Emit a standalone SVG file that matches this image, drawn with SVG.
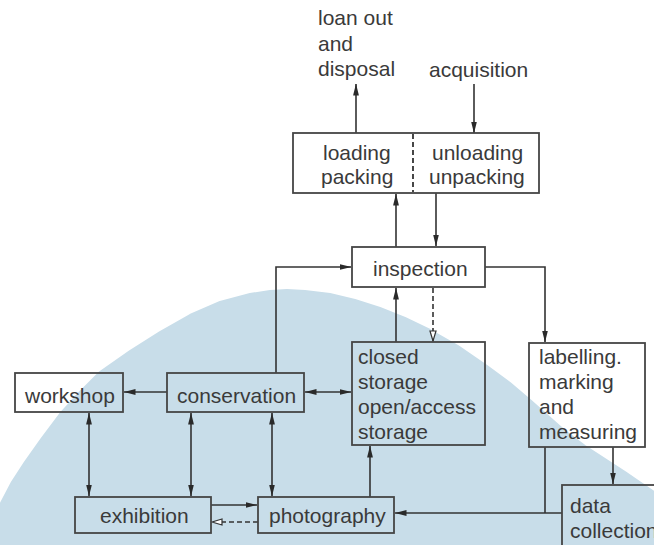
<svg xmlns="http://www.w3.org/2000/svg" width="654" height="545" viewBox="0 0 654 545">
<style>
.box{fill:none;stroke:#454545;stroke-width:1.8}
.t{font-family:"Liberation Sans",Arial,sans-serif;font-size:21px;fill:#3a3a3a}
.c{fill:none;stroke:#333;stroke-width:1.6}
.d{stroke-dasharray:5,3}
.a{marker-end:url(#arr)}
.b{marker-start:url(#arr);marker-end:url(#arr)}
.o{marker-end:url(#open)}
</style>
<defs>
<marker id="arr" markerUnits="userSpaceOnUse" markerWidth="12" markerHeight="7" viewBox="0 0 12 7" refX="11.5" refY="3.5" orient="auto-start-reverse">
<path d="M0,0.6 L12,3.5 L0,6.4 Z" fill="#2a2a2a"/>
</marker>
<marker id="open" markerUnits="userSpaceOnUse" markerWidth="12" markerHeight="9" viewBox="0 0 12 9" refX="11" refY="4.5" orient="auto">
<path d="M1,1.5 L11,4.5 L1,7.5 Z" fill="#fff" stroke="#333" stroke-width="1.2"/>
</marker>
</defs>
<rect width="654" height="545" fill="#fff"/>
<path id="bg" d="M0,505 L12,482 L25,462 L42,438 L60,414 L80,392 L100,372 L130,351 L160,332 L190,315 L220,302 L250,294 L270,291 L287,290 L305,291 L330,294 L355,300 L380,308 L405,318 L430,330 L458,346 L487,366 L510,383 L530,400 L548,416 L565,431 L585,446 L605,459 L625,472 L654,492 L654,545 L0,545 Z" fill="#c8dde9" stroke="#c8dde9" stroke-linejoin="round" stroke-width="2"/>
<g id="connectors">
<line class="c a" x1="356" y1="133" x2="356" y2="84"/>
<line class="c a" x1="474" y1="84" x2="474" y2="133"/>
<line class="c a" x1="396" y1="247" x2="396" y2="194"/>
<line class="c a" x1="436" y1="193" x2="436" y2="246"/>
<path class="c a" d="M276,373 V267 H351"/>
<path class="c a" d="M485,267 H545 V342"/>
<line class="c a" x1="396" y1="342" x2="396" y2="288"/>
<line class="c d o" x1="433" y1="288" x2="433" y2="341"/>
<line class="c b" x1="305" y1="392" x2="351" y2="392"/>
<line class="c a" x1="167" y1="392" x2="124" y2="392"/>
<line class="c b" x1="89" y1="413" x2="89" y2="496"/>
<line class="c b" x1="191" y1="413" x2="191" y2="496"/>
<line class="c b" x1="272" y1="413" x2="272" y2="496"/>
<line class="c a" x1="211" y1="505" x2="257" y2="505"/>
<line class="c d o" x1="258" y1="522" x2="212" y2="522"/>
<line class="c a" x1="370" y1="497" x2="370" y2="446"/>
<line class="c a" x1="562" y1="513" x2="395" y2="513"/>
<line class="c" x1="545" y1="447" x2="545" y2="513"/>
<line class="c a" x1="613" y1="447" x2="613" y2="484"/>
</g>
<g id="disposal">
<text class="t" x="318" y="25">loan  out</text>
<text class="t" x="318" y="51">and</text>
<text class="t" x="318" y="76">disposal</text>
</g>
<g id="acquisition">
<text class="t" x="429" y="77">acquisition</text>
</g>
<g id="loading">
<rect class="box" x="293" y="133" width="246" height="60"/>
<line x1="413" y1="134" x2="413" y2="192" stroke="#333" stroke-width="1.8" stroke-dasharray="5,3"/>
<text class="t" x="323" y="160">loading</text>
<text class="t" x="321" y="184">packing</text>
<text class="t" x="432" y="160">unloading</text>
<text class="t" x="429" y="184">unpacking</text>
</g>
<g id="inspection">
<rect class="box" x="352" y="247" width="133" height="40"/>
<text class="t" x="373" y="276">inspection</text>
</g>
<g id="storage">
<rect class="box" x="352" y="342" width="133" height="103"/>
<text class="t" x="358" y="364">closed</text>
<text class="t" x="358" y="389">storage</text>
<text class="t" x="358" y="414">open/access</text>
<text class="t" x="358" y="439">storage</text>
</g>
<g id="labelling">
<rect class="box" x="529" y="343" width="116" height="104"/>
<text class="t" x="539" y="364">labelling.</text>
<text class="t" x="539" y="389">marking</text>
<text class="t" x="539" y="414">and</text>
<text class="t" x="539" y="439">measuring</text>
</g>
<g id="workshop">
<rect class="box" x="15" y="373" width="108" height="39"/>
<text class="t" x="25" y="403">workshop</text>
</g>
<g id="conservation">
<rect class="box" x="167" y="373" width="137" height="39"/>
<text class="t" x="177" y="403">conservation</text>
</g>
<g id="exhibition">
<rect class="box" x="75" y="497" width="136" height="36"/>
<text class="t" x="100" y="523">exhibition</text>
</g>
<g id="photography">
<rect class="box" x="258" y="497" width="136" height="36"/>
<text class="t" x="269" y="523">photography</text>
</g>
<g id="datacollection">
<rect class="box" x="562" y="485" width="100" height="70"/>
<text class="t" x="570" y="513">data</text>
<text class="t" x="570" y="538">collection</text>
</g>
</svg>
